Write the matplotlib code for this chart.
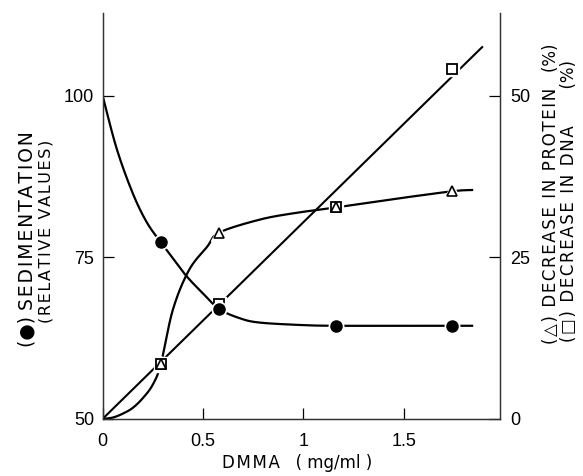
import numpy as np
import matplotlib
matplotlib.use("Agg")
import matplotlib.pyplot as plt

plt.rcParams['font.family'] = ['Liberation Sans', 'DejaVu Sans']

# measured points (DMMA in mg/ml)
dose = [0.29, 0.58, 1.16, 1.74]
sedimentation = [77.3, 67.0, 64.4, 64.4]   # relative values, left axis
protein = [8.5, 28.8, 32.7, 35.2]          # % decrease, right axis
dna = [8.5, 17.8, 32.7, 54.1]              # % decrease, right axis

# hand-drawn curves
sed_curve_x = [0, 0.07, 0.15, 0.22, 0.29, 0.35, 0.42, 0.5, 0.58, 0.68, 0.78, 1.0, 1.16, 1.45, 1.74, 1.84]
sed_curve_y = [100, 91.8, 84.9, 80.4, 77.3, 74.8, 72.0, 69.4, 67.0, 65.6, 64.9, 64.5, 64.4, 64.4, 64.4, 64.4]
prot_curve_x = [0, 0.05, 0.1, 0.15, 0.2, 0.25, 0.29, 0.35, 0.43, 0.52, 0.58, 0.78, 0.95, 1.16, 1.45, 1.74, 1.84]
prot_curve_y = [0, 0.2, 0.8, 1.7, 3.2, 5.3, 8.5, 16.9, 23.0, 26.6, 28.8, 30.8, 31.8, 32.7, 34.0, 35.2, 35.4]
dna_fit_x = [0, 1.89]
dna_fit_y = [0, 57.5]

x_ticks = [0, 0.5, 1, 1.5]
x_labels = ["0", "0.5", "1", "1.5"]
left_ticks = [50, 75, 100]
right_ticks = [0, 25, 50]


def smooth(xs, ys, n=25):
    # catmull-rom through the read points
    p = np.column_stack([xs, ys]).astype(float)
    p = np.vstack([p[0], p, p[-1]])
    out = []
    for i in range(1, len(p) - 2):
        p0, p1, p2, p3 = p[i - 1], p[i], p[i + 1], p[i + 2]
        t = np.linspace(0, 1, n, endpoint=False)[:, None]
        seg = 0.5 * ((2 * p1) + (-p0 + p2) * t + (2 * p0 - 5 * p1 + 4 * p2 - p3) * t ** 2
                     + (-p0 + 3 * p1 - 3 * p2 + p3) * t ** 3)
        out.append(seg)
    out.append(p[-2][None, :])
    out = np.vstack(out)
    return out[:, 0], out[:, 1]


def spaced(s, sp="\u200a"):
    # loose letter spacing like the old lettering
    return sp.join(s)


fig = plt.figure(figsize=(5.83, 4.76), dpi=100)
ax = fig.add_axes([0.176, 0.12, 0.682, 0.853])
ax2 = ax.twinx()

ax.set_xlim(0, 1.98)
ax.set_ylim(50, 112.8)
ax2.set_ylim(0, 62.8)

for a in (ax, ax2):
    a.spines['top'].set_visible(False)
    for s in a.spines.values():
        s.set_linewidth(0.9)
        s.set_color('#333333')

lw = 1.6
sx, sy = smooth(sed_curve_x, sed_curve_y)
ax.plot(sx, sy, color='black', lw=lw, zorder=2)
px, py = smooth(prot_curve_x, prot_curve_y)
ax2.plot(px, py, color='black', lw=lw, zorder=2)
ax2.plot(dna_fit_x, dna_fit_y, color='black', lw=1.5, zorder=2)

# white halos leave the small gaps around the symbols
ax2.plot(dose, dna, 's', ms=10.5, color='white', zorder=3)
ax2.plot(dose, protein, '^', ms=11, color='white', zorder=3)
ax.plot(dose, sedimentation, 'o', ms=10.5, color='white', zorder=3)

ax2.plot(dose, dna, 's', ms=7.5, mfc='white', mec='black', mew=1.3, zorder=4)
ax2.plot(dose, protein, '^', ms=6.5, mfc='white', mec='black', mew=1.2, zorder=5)
ax.plot(dose, sedimentation, 'o', ms=8, color='black', zorder=6)
ax.set_zorder(ax2.get_zorder() + 1)
ax.patch.set_visible(False)

ax.set_xticks(x_ticks)
ax.set_xticklabels(x_labels)
ax.set_yticks(left_ticks)
ax2.set_yticks(right_ticks)
ax.tick_params(axis='both', direction='in', length=8, width=0.9, labelsize=13, pad=6)
ax.tick_params(axis='x', pad=10)
ax2.tick_params(axis='y', direction='in', length=8, width=0.9, labelsize=13, pad=7)

lab = dict(family=['DejaVu Sans'], rotation=90, ha='center', va='center')
fig.text(0.509, 0.027, spaced("DMMA") + "   ( mg/ml )", ha='center', va='center',
         fontsize=12, family=['DejaVu Sans'])
fig.text(0.047, 0.497, "(\u25cf) " + spaced("SEDIMENTATION"), fontsize=13.5, **lab)
fig.text(0.079, 0.513, spaced("(RELATIVE VALUES)"), fontsize=11.5, **lab)
fig.text(0.945, 0.592, spaced("(\u25b3) DECREASE IN PROTEIN") + "   (%)", fontsize=12, **lab)
fig.text(0.976, 0.578, spaced("(\u25a1) DECREASE IN DNA") + "       (%)", fontsize=12, **lab)

fig.savefig("out.png", dpi=100)
